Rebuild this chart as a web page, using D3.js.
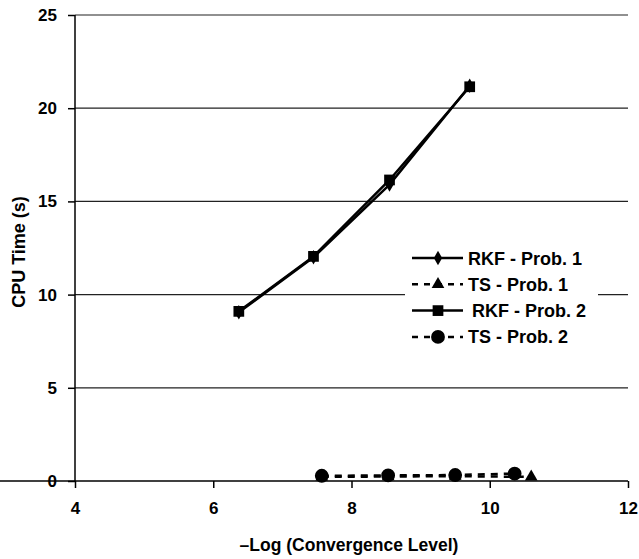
<!DOCTYPE html>
<html>
<head>
<meta charset="utf-8">
<script src="https://cdn.jsdelivr.net/npm/d3@7"></script>
<style>
  body { margin: 0; background: #fff; }
  text { font-family: "Liberation Sans", Arial, sans-serif; font-weight: bold; fill: #000; }
</style>
</head>
<body>
<svg width="639" height="559"></svg>
<script>
// data
const xTicks = [4, 6, 8, 10, 12];
const yTicks = [0, 5, 10, 15, 20, 25];

const rkf1X = [6.37, 7.45, 8.55, 9.71];
const rkf1Y = [9.05, 12.0, 15.9, 21.2];
const ts1X = [7.57, 8.53, 9.5, 10.6];
const ts1Y = [0.22, 0.24, 0.26, 0.22];
const rkf2X = [6.37, 7.45, 8.55, 9.71];
const rkf2Y = [9.1, 12.05, 16.15, 21.15];
const ts2X = [7.57, 8.53, 9.5, 10.36];
const ts2Y = [0.28, 0.3, 0.32, 0.4];

const seriesNames = ["RKF - Prob. 1", "TS - Prob. 1", "RKF - Prob. 2", "TS - Prob. 2"];

let svg = d3.select("svg");

let x = d3.scaleLinear().domain([4, 12]).range([75, 628]);
let y = d3.scaleLinear().domain([0, 25]).range([481, 15]);

// gridlines
svg.append("g")
  .selectAll("line")
  .data(yTicks.filter(d => d > 0))
  .enter()
  .append("line")
  .attr("x1", x(4)).attr("x2", x(12))
  .attr("y1", d => y(d)).attr("y2", d => y(d))
  .attr("stroke", "#222").attr("stroke-width", 1.2);

// axes
let xAxis = svg.append("g")
  .attr("transform", `translate(0,${y(0)})`)
  .call(d3.axisBottom(x).tickValues(xTicks).tickSize(7).tickPadding(14).tickFormat(d3.format("d")));
let yAxis = svg.append("g")
  .attr("transform", `translate(${x(4)},0)`)
  .call(d3.axisLeft(y).tickValues(yTicks).tickSize(7).tickPadding(11).tickFormat(d3.format("d")));
[xAxis, yAxis].forEach(a => {
  a.select(".domain").attr("stroke", "#000").attr("stroke-width", 1.5);
  a.selectAll(".tick line").attr("stroke", "#000").attr("stroke-width", 1.5);
  a.selectAll("text").style("font-size", "17px").style("font-family", "Liberation Sans, Arial, sans-serif").style("font-weight", "bold");
});
yAxis.select(".domain").attr("d", `M0,${y(25)}V${y(0)}`);
xAxis.select(".domain").attr("d", `M0,0H${x(12)}`);

// axis titles
svg.append("text")
  .attr("x", 349).attr("y", 551)
  .attr("text-anchor", "middle")
  .style("font-size", "17.5px")
  .text("\u2013Log (Convergence Level)");
svg.append("text")
  .attr("transform", "translate(25,252) rotate(-90)")
  .attr("text-anchor", "middle")
  .style("font-size", "18px")
  .text("CPU Time (s)");

let line = d3.line().x(d => x(d[0])).y(d => y(d[1]));
let zip = (a, b) => a.map((v, i) => [v, b[i]]);

let series = [
  { pts: zip(rkf1X, rkf1Y), dash: null, shape: d3.symbolDiamond, size: 60 },
  { pts: zip(ts1X, ts1Y), dash: "7,6", shape: d3.symbolTriangle, size: 70 },
  { pts: zip(rkf2X, rkf2Y), dash: null, shape: d3.symbolSquare, size: 115 },
  { pts: zip(ts2X, ts2Y), dash: "7,6", shape: d3.symbolCircle, size: 150 }
];

series.forEach(s => {
  svg.append("path")
    .datum(s.pts)
    .attr("d", line)
    .attr("fill", "none")
    .attr("stroke", "#000")
    .attr("stroke-width", 2.5)
    .attr("stroke-dasharray", s.dash);
  svg.append("g")
    .selectAll("path")
    .data(s.pts)
    .enter()
    .append("path")
    .attr("transform", d => `translate(${x(d[0])},${y(d[1])})`)
    .attr("d", d3.symbol().type(s.shape).size(s.size))
    .attr("fill", "#000");
});

// legend
let legend = svg.append("g");
legend.append("rect")
  .attr("x", 405).attr("y", 240).attr("width", 193).attr("height", 112)
  .attr("fill", "#fff");
series.forEach((s, i) => {
  let cy = 258 + i * 26.3;
  legend.append("line")
    .attr("x1", 412).attr("x2", 463)
    .attr("y1", cy).attr("y2", cy)
    .attr("stroke", "#000").attr("stroke-width", 2.5)
    .attr("stroke-dasharray", s.dash ? "6,6" : null);
  legend.append("path")
    .attr("transform", `translate(438,${cy})`)
    .attr("d", d3.symbol().type(s.shape).size(s.size))
    .attr("fill", "#000");
  legend.append("text")
    .attr("x", i == 2 ? 472 : 468).attr("y", cy + 6.5)
    .style("font-size", "18px")
    .text(seriesNames[i]);
});
</script>
</body>
</html>
